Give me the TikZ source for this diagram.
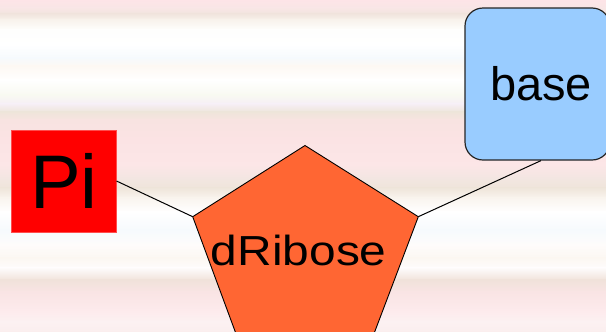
\documentclass[tikz,border=0pt]{standalone}
\usepackage{fontspec}
\setmainfont{Liberation Sans}
\usepackage{graphicx}

% stripe colours of the backdrop, top to bottom
\definecolor{bg0}{HTML}{FDE4E7}
\definecolor{bg1}{HTML}{F8E6E6}
\definecolor{bg2}{HTML}{F1E4DD}
\definecolor{bg3}{HTML}{F8F3EC}
\definecolor{bg4}{HTML}{FEFEFD}
\definecolor{bg5}{HTML}{FFFFFF}
\definecolor{bg6}{HTML}{F6FAFD}
\definecolor{bg7}{HTML}{FDF8F3}
\definecolor{bg8}{HTML}{FFFFFF}
\definecolor{bg9}{HTML}{F8F9F1}
\definecolor{bg10}{HTML}{F6EFF6}
\definecolor{bg11}{HTML}{EEE5DA}
\definecolor{bg12}{HTML}{F8E3E1}
\definecolor{bg13}{HTML}{FBE3E4}
\definecolor{bg14}{HTML}{FCE6E7}
\definecolor{bg15}{HTML}{F3E6E2}
\definecolor{bg16}{HTML}{EFE5DA}
\definecolor{bg17}{HTML}{F9F4EE}
\definecolor{bg18}{HTML}{FFFFFF}
\definecolor{bg19}{HTML}{F6FAFD}
\definecolor{bg20}{HTML}{FEFCFB}
\definecolor{bg21}{HTML}{FCF7F2}
\definecolor{bg22}{HTML}{FEFCFC}
\definecolor{bg23}{HTML}{F0E2DA}
\definecolor{bg24}{HTML}{F9E4E4}
\definecolor{bg25}{HTML}{FDEAEC}
\definecolor{bg26}{HTML}{FCF1F2}
\definecolor{bg27}{HTML}{FBEEEE}

\definecolor{piRed}{HTML}{FF0000}
\definecolor{piEdge}{HTML}{FF4D4D}
\definecolor{baseBlue}{HTML}{99CCFF}
\definecolor{riboseOrange}{HTML}{FF6633}

\tikzset{
  conn/.style={draw=black, line width=1bp},
  pibox/.style={rectangle, fill=piRed, draw=piEdge, line width=1bp,
    minimum width=104bp, minimum height=102bp, inner sep=0pt,
    font=\fontsize{76bp}{76bp}\selectfont},
  basebox/.style={rectangle, rounded corners=18bp, fill=baseBlue,
    draw=black!85, line width=1.2bp, minimum width=145bp,
    minimum height=152bp, inner sep=0pt,
    font=\fontsize{47bp}{47bp}\selectfont},
  sugar/.style={fill=riboseOrange, draw=black, line width=0.9bp},
  sugarlabel/.style={inner sep=0pt, anchor=base,
    font=\fontsize{42bp}{42bp}\selectfont}
}

\begin{document}
\begin{tikzpicture}[x=1bp, y=-1bp]
  \useasboundingbox (0,0) rectangle (606,331);
  \clip (0,0) rectangle (606,331);

  % striped backdrop
  \foreach \ya/\yb/\ca/\cb in {
      0/8/bg0/bg1, 8/14/bg1/bg2, 14/20/bg2/bg3, 20/30/bg3/bg4,
      30/45/bg4/bg5, 45/58/bg5/bg6, 58/66/bg6/bg7, 66/80/bg7/bg8,
      80/95/bg8/bg9, 95/104/bg9/bg10, 104/112/bg10/bg11, 112/120/bg11/bg12,
      120/140/bg12/bg13, 140/165/bg13/bg14, 165/178/bg14/bg15,
      178/188/bg15/bg16, 188/198/bg16/bg17, 198/212/bg17/bg18,
      212/230/bg18/bg19, 230/245/bg19/bg20, 245/258/bg20/bg21,
      258/268/bg21/bg22, 268/280/bg22/bg23, 280/292/bg23/bg24,
      292/310/bg24/bg25, 310/322/bg25/bg26, 322/331.5/bg26/bg27}
    \shade[top color=\ca, bottom color=\cb] (-1,\ya-0.4) rectangle (607,\yb+0.4);

  % phosphate and base
  \node[pibox] (pi) at (64,181) {Pi};
  \node[basebox] (base) at (537.5,84) {\hspace*{7bp}base};

  % corners of the sugar ring
  \coordinate (ptop) at (305,145.5);
  \coordinate (pl) at (192.7,216.7);
  \coordinate (pr) at (418.3,216.7);
  \coordinate (pbl) at (242,350);
  \coordinate (pbr) at (367.8,350);

  % bonds
  \draw[conn] (pi.east) -- (pl);
  \draw[conn] ([xshift=3.5bp]base.south) -- (pr);

  % deoxyribose
  \draw[sugar] (ptop) -- (pr) -- (pbr) -- (pbl) -- (pl) -- cycle;
  \node[sugarlabel] (ribose) at (298.8,265) {\scalebox{1.14}[1]{dRibose}};
\end{tikzpicture}
\end{document}
